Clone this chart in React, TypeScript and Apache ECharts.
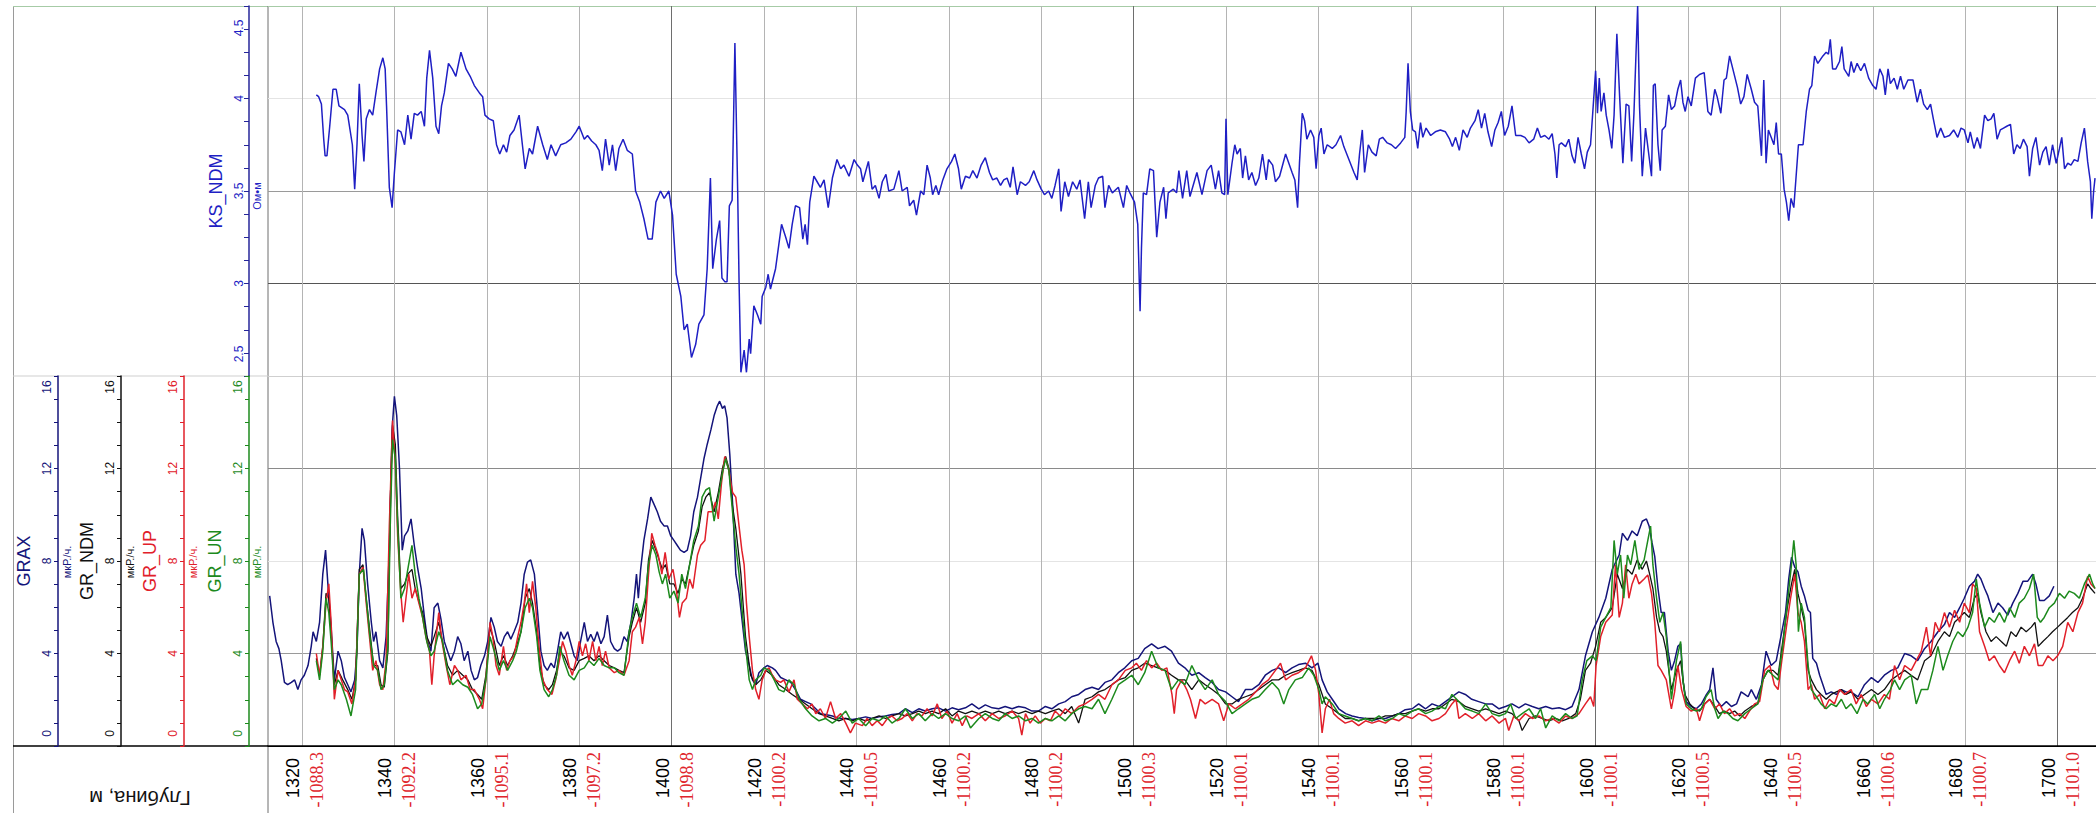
import React, { useEffect, useRef } from "react";
import * as echarts from "echarts";

// ---------- axes / ticks ----------
const DEPTH_MIN = 1312.64;
const DEPTH_MAX = 1708.31;
const DEPTH_TICKS = [1320, 1340, 1360, 1380, 1400, 1420, 1440, 1460, 1480, 1500, 1520, 1540, 1560, 1580, 1600, 1620, 1640, 1660, 1680, 1700];
const ABS_ELEV = ["-1088.3", "-1092.2", "-1095.1", "-1097.2", "-1098.8", "-1100.2", "-1100.5", "-1100.2", "-1100.2", "-1100.3", "-1100.1", "-1100.1", "-1100.1", "-1100.1", "-1100.1", "-1100.5", "-1100.5", "-1100.6", "-1100.7", "-1101.0"];
const KS_RANGE = [2.5, 4.5];
const GR_RANGE = [0, 16];

// ---------- curves: [depth, value] ----------
const KS_NDM: number[][] = [[1323.1,4.02],[1323.6,4.01],[1324.2,3.97],[1324.7,3.78],[1325.0,3.69],[1325.4,3.69],[1326.0,3.85],[1326.7,4.05],[1327.4,4.05],[1328.0,3.96],[1329.2,3.94],[1329.9,3.91],[1330.9,3.75],[1331.4,3.51],[1331.9,3.75],[1332.4,4.08],[1333.0,3.80],[1333.4,3.66],[1333.9,3.89],[1334.6,3.94],[1335.3,3.91],[1336.0,4.03],[1336.8,4.16],[1337.5,4.22],[1338.0,4.16],[1338.3,3.96],[1338.9,3.52],[1339.5,3.41],[1340.0,3.60],[1340.7,3.83],[1341.4,3.82],[1342.2,3.75],[1342.9,3.91],[1343.6,3.78],[1344.3,3.92],[1345.0,3.91],[1345.8,3.93],[1346.5,3.85],[1347.0,4.11],[1347.6,4.26],[1348.3,4.11],[1349.0,3.85],[1349.6,3.81],[1350.2,3.96],[1350.8,4.03],[1351.7,4.19],[1352.5,4.16],[1353.3,4.12],[1354.4,4.25],[1355.5,4.16],[1356.4,4.12],[1357.3,4.07],[1358.4,4.03],[1359.1,4.01],[1359.6,3.91],[1360.5,3.89],[1361.4,3.88],[1362.1,3.75],[1362.8,3.70],[1363.6,3.75],[1364.3,3.71],[1365.0,3.80],[1365.9,3.83],[1367.0,3.91],[1367.7,3.75],[1368.3,3.62],[1369.2,3.73],[1369.9,3.70],[1371.0,3.85],[1372.1,3.75],[1373.1,3.67],[1373.9,3.75],[1374.9,3.69],[1376.0,3.75],[1377.1,3.76],[1378.2,3.78],[1379.3,3.82],[1380.0,3.85],[1381.1,3.78],[1381.8,3.80],[1382.7,3.77],[1383.6,3.75],[1384.3,3.72],[1385.0,3.61],[1385.7,3.78],[1386.5,3.64],[1387.2,3.75],[1387.9,3.61],[1388.6,3.73],[1389.5,3.78],[1390.4,3.72],[1391.5,3.70],[1392.2,3.50],[1393.1,3.44],[1394.0,3.35],[1394.9,3.24],[1395.8,3.24],[1396.6,3.44],[1397.6,3.50],[1398.4,3.46],[1399.4,3.50],[1400.2,3.37],[1401.0,3.05],[1402.0,2.93],[1402.7,2.75],[1403.4,2.78],[1404.3,2.60],[1405.2,2.67],[1405.9,2.78],[1407.0,2.83],[1407.7,3.08],[1408.4,3.57],[1408.9,3.08],[1409.7,3.24],[1410.4,3.34],[1410.9,3.03],[1411.5,3.01],[1412.0,3.01],[1412.5,3.42],[1413.1,3.45],[1413.7,4.30],[1414.3,3.50],[1414.6,3.01],[1415.0,2.52],[1415.7,2.64],[1416.2,2.52],[1416.8,2.70],[1417.1,2.62],[1417.8,2.88],[1418.6,2.83],[1419.3,2.78],[1419.6,2.93],[1420.4,2.98],[1420.9,3.05],[1421.4,2.97],[1422.5,3.08],[1423.8,3.32],[1424.7,3.25],[1425.4,3.19],[1426.1,3.32],[1426.8,3.42],[1427.7,3.41],[1428.4,3.24],[1428.9,3.32],[1429.4,3.21],[1429.9,3.44],[1430.8,3.58],[1431.5,3.55],[1432.2,3.52],[1433.0,3.56],[1433.9,3.41],[1434.8,3.57],[1435.8,3.67],[1436.6,3.62],[1437.3,3.64],[1438.4,3.58],[1439.5,3.67],[1440.2,3.64],[1440.9,3.62],[1441.4,3.55],[1442.6,3.66],[1443.4,3.51],[1444.1,3.53],[1444.9,3.46],[1445.6,3.55],[1446.4,3.59],[1447.0,3.50],[1448.1,3.51],[1449.2,3.61],[1449.9,3.50],[1451.0,3.52],[1451.5,3.42],[1452.4,3.45],[1453.0,3.37],[1453.9,3.50],[1454.6,3.48],[1455.3,3.64],[1456.0,3.57],[1456.5,3.48],[1457.2,3.53],[1457.8,3.48],[1458.7,3.56],[1459.6,3.62],[1460.6,3.66],[1461.3,3.70],[1462.1,3.62],[1462.7,3.51],[1463.6,3.58],[1464.5,3.57],[1465.2,3.61],[1466.1,3.57],[1467.0,3.64],[1467.9,3.68],[1468.8,3.60],[1469.5,3.56],[1470.4,3.57],[1471.2,3.53],[1471.9,3.56],[1472.6,3.57],[1473.3,3.52],[1473.9,3.63],[1474.8,3.48],[1475.5,3.55],[1476.6,3.53],[1477.4,3.55],[1478.4,3.61],[1479.1,3.56],[1480.0,3.51],[1480.7,3.48],[1481.6,3.50],[1482.3,3.46],[1483.0,3.53],[1483.8,3.62],[1484.3,3.39],[1485.1,3.55],[1485.9,3.47],[1486.8,3.55],[1487.7,3.51],[1488.4,3.56],[1489.4,3.35],[1490.2,3.55],[1490.8,3.41],[1491.7,3.53],[1492.4,3.57],[1493.3,3.58],[1493.8,3.41],[1494.6,3.53],[1495.4,3.49],[1496.7,3.52],[1497.8,3.41],[1498.5,3.53],[1499.2,3.49],[1500.2,3.44],[1500.9,3.32],[1501.4,2.85],[1501.7,3.19],[1502.1,3.49],[1502.8,3.48],[1503.5,3.62],[1504.3,3.61],[1505.0,3.25],[1505.7,3.44],[1506.5,3.52],[1507.0,3.35],[1507.5,3.49],[1508.6,3.51],[1509.3,3.49],[1509.8,3.61],[1510.6,3.46],[1511.5,3.61],[1512.2,3.47],[1513.7,3.60],[1514.8,3.48],[1515.9,3.61],[1516.8,3.64],[1517.7,3.51],[1518.4,3.61],[1519.1,3.49],[1519.7,3.48],[1520.0,3.89],[1520.4,3.48],[1521.3,3.65],[1521.9,3.75],[1522.4,3.70],[1523.1,3.73],[1523.6,3.57],[1524.2,3.69],[1524.9,3.56],[1525.6,3.60],[1526.4,3.53],[1527.1,3.57],[1527.9,3.70],[1528.7,3.56],[1529.2,3.67],[1530.1,3.64],[1530.7,3.55],[1531.6,3.58],[1532.9,3.70],[1533.6,3.65],[1534.3,3.60],[1534.9,3.56],[1535.5,3.41],[1535.9,3.65],[1536.5,3.92],[1537.0,3.88],[1537.5,3.78],[1538.3,3.83],[1539.0,3.79],[1539.5,3.62],[1540.1,3.80],[1540.6,3.84],[1541.2,3.70],[1541.9,3.75],[1543.0,3.73],[1543.8,3.75],[1544.8,3.80],[1545.5,3.74],[1546.6,3.67],[1547.7,3.60],[1548.4,3.56],[1548.9,3.70],[1549.5,3.83],[1550.0,3.60],[1550.8,3.75],[1551.6,3.71],[1552.5,3.69],[1553.2,3.78],[1553.9,3.79],[1554.9,3.76],[1555.8,3.75],[1556.7,3.73],[1557.8,3.76],[1558.7,3.79],[1559.0,3.93],[1559.4,4.19],[1559.9,3.93],[1560.4,3.83],[1561.0,3.82],[1561.5,3.73],[1562.1,3.87],[1562.6,3.79],[1563.3,3.84],[1564.3,3.80],[1565.3,3.82],[1566.4,3.83],[1567.5,3.82],[1568.4,3.78],[1569.0,3.74],[1569.7,3.79],[1570.5,3.72],[1571.3,3.83],[1572.2,3.79],[1572.9,3.84],[1573.9,3.88],[1574.6,3.94],[1575.3,3.84],[1576.0,3.92],[1576.7,3.82],[1577.5,3.74],[1578.2,3.83],[1578.9,3.87],[1579.6,3.93],[1580.3,3.80],[1581.1,3.85],[1581.9,3.96],[1582.7,3.80],[1583.8,3.80],[1584.7,3.79],[1585.6,3.76],[1586.6,3.78],[1587.4,3.84],[1588.1,3.79],[1589.0,3.80],[1589.9,3.78],[1590.6,3.81],[1591.2,3.70],[1591.6,3.57],[1592.1,3.75],[1592.6,3.76],[1593.5,3.74],[1594.2,3.78],[1594.9,3.69],[1595.5,3.65],[1596.2,3.79],[1596.9,3.70],[1597.6,3.62],[1598.2,3.71],[1598.9,3.75],[1599.4,3.93],[1600.0,4.15],[1600.4,3.92],[1600.8,4.11],[1601.2,3.93],[1601.8,4.03],[1602.3,3.91],[1602.9,3.83],[1603.5,3.73],[1604.0,3.91],[1604.6,4.35],[1605.2,4.01],[1605.9,3.65],[1606.6,3.97],[1607.2,3.96],[1607.8,3.66],[1608.3,3.92],[1609.1,4.50],[1609.5,3.96],[1610.1,3.58],[1610.8,3.84],[1611.5,3.70],[1612.1,3.58],[1612.5,4.07],[1612.9,4.08],[1613.5,3.75],[1614.0,3.61],[1614.4,3.83],[1615.1,3.85],[1615.8,4.02],[1616.4,3.94],[1617.1,3.96],[1617.8,4.05],[1618.4,4.10],[1618.9,3.98],[1619.4,3.93],[1620.0,4.01],[1620.7,3.96],[1621.6,4.11],[1622.5,4.13],[1623.5,4.14],[1624.3,3.93],[1625.0,3.91],[1625.8,4.05],[1626.3,4.01],[1627.1,3.92],[1627.8,4.10],[1628.3,4.11],[1629.0,4.23],[1629.7,4.16],[1630.7,4.06],[1631.4,3.97],[1632.1,4.01],[1632.8,4.13],[1633.7,4.05],[1634.4,3.98],[1635.1,3.96],[1635.9,3.69],[1636.4,4.10],[1636.9,3.65],[1637.4,3.83],[1638.0,3.79],[1638.6,3.75],[1639.1,3.87],[1639.6,3.70],[1640.2,3.70],[1640.8,3.51],[1641.3,3.44],[1641.8,3.34],[1642.3,3.46],[1642.9,3.41],[1643.4,3.58],[1643.9,3.75],[1644.9,3.75],[1645.6,3.93],[1646.3,4.05],[1646.8,4.07],[1647.4,4.23],[1648.1,4.19],[1649.2,4.23],[1649.9,4.25],[1650.4,4.24],[1650.8,4.32],[1651.3,4.16],[1652.0,4.16],[1652.8,4.20],[1653.3,4.28],[1653.8,4.16],[1654.8,4.12],[1655.3,4.20],[1655.9,4.14],[1656.6,4.19],[1657.4,4.15],[1658.2,4.19],[1659.1,4.11],[1660.0,4.07],[1660.7,4.05],[1661.5,4.16],[1662.2,4.12],[1662.7,4.02],[1663.3,4.16],[1663.8,4.08],[1664.6,4.11],[1665.3,4.05],[1666.0,4.12],[1666.7,4.05],[1667.6,4.10],[1668.7,4.10],[1669.6,3.98],[1670.3,4.05],[1671.0,3.97],[1671.8,3.94],[1672.5,3.97],[1673.1,3.89],[1673.9,3.79],[1674.7,3.84],[1675.5,3.79],[1676.6,3.80],[1677.5,3.83],[1678.4,3.79],[1679.1,3.84],[1679.8,3.83],[1680.6,3.76],[1681.1,3.82],[1681.9,3.73],[1682.6,3.79],[1683.3,3.73],[1684.2,3.91],[1684.9,3.88],[1685.6,3.89],[1686.2,3.92],[1686.9,3.78],[1687.6,3.83],[1688.3,3.84],[1689.0,3.85],[1689.8,3.86],[1690.5,3.70],[1691.2,3.75],[1691.9,3.73],[1692.6,3.78],[1693.4,3.74],[1693.9,3.58],[1694.6,3.73],[1695.3,3.79],[1696.1,3.64],[1696.8,3.71],[1697.5,3.74],[1698.2,3.64],[1698.9,3.75],[1699.7,3.65],[1700.4,3.73],[1700.9,3.79],[1701.5,3.62],[1702.2,3.65],[1702.9,3.64],[1703.6,3.67],[1704.4,3.66],[1705.1,3.76],[1705.8,3.84],[1706.5,3.66],[1707.1,3.55],[1707.4,3.35],[1707.8,3.50],[1708.1,3.57]];

const GRAX: number[][] = [[1313.0,6.49],[1313.7,5.35],[1314.4,4.52],[1315.0,4.21],[1315.5,3.69],[1316.2,2.75],[1316.9,2.65],[1317.7,2.75],[1318.4,2.86],[1319.1,2.44],[1319.8,2.86],[1320.5,3.06],[1321.3,3.48],[1322.0,4.31],[1322.4,4.94],[1323.1,4.52],[1323.8,5.35],[1324.5,7.43],[1325.1,8.47],[1325.6,7.01],[1326.3,5.14],[1327.0,2.86],[1327.8,4.10],[1328.5,3.69],[1329.2,2.96],[1329.9,2.65],[1330.6,2.34],[1331.4,2.86],[1331.9,4.10],[1332.4,7.43],[1333.0,9.41],[1333.5,8.89],[1334.2,7.01],[1335.0,5.35],[1335.5,4.52],[1336.0,4.94],[1336.8,3.69],[1337.5,3.38],[1338.2,4.73],[1338.9,8.47],[1339.5,13.67],[1340.0,15.12],[1340.5,14.29],[1341.1,12.00],[1341.7,8.47],[1342.2,9.09],[1342.9,9.30],[1343.6,9.82],[1344.3,8.68],[1345.0,7.74],[1345.8,6.81],[1346.5,5.56],[1347.2,4.52],[1347.9,4.10],[1348.6,5.98],[1349.4,6.18],[1350.1,5.46],[1350.8,4.52],[1351.5,4.10],[1352.2,3.69],[1353.0,4.10],[1353.7,4.73],[1354.4,4.42],[1355.1,3.69],[1355.9,4.10],[1356.6,3.27],[1357.3,2.86],[1358.0,2.96],[1358.7,3.48],[1359.5,3.90],[1360.2,4.52],[1360.9,5.56],[1361.6,5.14],[1362.3,4.52],[1363.1,4.31],[1363.8,4.73],[1364.5,4.94],[1365.2,4.62],[1365.9,4.94],[1366.7,5.35],[1367.4,6.18],[1368.1,7.43],[1368.8,7.95],[1369.5,8.05],[1370.3,7.43],[1371.0,5.77],[1371.7,4.10],[1372.4,3.48],[1373.1,3.27],[1373.9,3.58],[1374.6,3.38],[1375.3,4.10],[1376.0,4.94],[1376.7,4.62],[1377.5,4.94],[1378.2,4.42],[1378.9,3.90],[1379.6,3.69],[1380.3,4.52],[1381.1,5.35],[1381.8,4.52],[1382.5,4.83],[1383.2,4.52],[1383.9,4.94],[1384.7,4.42],[1385.4,4.73],[1386.1,5.66],[1386.8,4.52],[1387.6,4.21],[1388.3,4.10],[1389.0,4.21],[1389.7,4.73],[1390.4,4.52],[1391.2,5.35],[1391.9,6.39],[1392.4,7.43],[1392.8,6.39],[1393.3,7.64],[1394.0,8.89],[1394.8,9.82],[1395.5,10.76],[1396.2,10.45],[1396.9,10.13],[1397.6,9.72],[1398.4,9.51],[1399.1,9.51],[1399.8,9.09],[1400.5,8.89],[1401.2,8.68],[1401.9,8.47],[1402.7,8.37],[1403.4,8.47],[1404.1,9.09],[1404.8,10.13],[1405.6,10.76],[1406.3,11.59],[1407.0,12.42],[1407.7,13.04],[1408.5,13.67],[1409.2,14.29],[1409.9,14.71],[1410.4,14.91],[1411.0,14.60],[1411.5,14.71],[1412.0,14.19],[1412.6,12.60],[1413.2,10.50],[1413.9,7.43],[1414.6,6.60],[1415.3,5.35],[1416.0,4.10],[1416.8,3.48],[1417.5,2.86],[1418.2,2.65],[1418.9,3.17],[1420.0,3.38],[1420.7,3.48],[1421.8,3.38],[1422.5,3.27],[1423.6,2.96],[1424.7,2.86],[1425.8,2.75],[1426.8,2.44],[1427.9,2.02],[1429.0,1.92],[1430.1,1.82],[1431.2,1.61],[1432.2,1.40],[1433.3,1.36],[1434.8,1.30],[1436.2,1.19],[1437.7,1.19],[1439.1,1.15],[1440.5,1.19],[1442.0,1.26],[1443.4,1.19],[1444.9,1.26],[1446.3,1.30],[1447.7,1.36],[1449.2,1.40],[1450.6,1.61],[1452.1,1.44],[1453.5,1.61],[1454.9,1.51],[1456.4,1.61],[1457.8,1.65],[1459.3,1.51],[1460.7,1.65],[1462.1,1.57],[1463.6,1.65],[1465.0,1.82],[1466.5,1.61],[1467.9,1.78],[1469.4,1.65],[1470.8,1.61],[1472.2,1.71],[1473.7,1.61],[1475.1,1.71],[1476.6,1.65],[1478.0,1.51],[1479.4,1.51],[1480.9,1.71],[1482.3,1.61],[1483.8,1.82],[1485.2,1.92],[1486.6,2.13],[1488.1,2.23],[1489.5,2.44],[1491.0,2.54],[1492.4,2.44],[1493.8,2.75],[1495.3,2.86],[1496.7,3.17],[1498.1,3.38],[1499.6,3.69],[1501.0,3.79],[1502.4,4.21],[1503.9,4.42],[1505.3,4.21],[1506.8,4.31],[1508.2,4.10],[1509.7,3.58],[1511.1,3.38],[1512.6,3.06],[1514.1,3.17],[1515.5,2.96],[1517.0,2.75],[1518.4,2.44],[1519.9,2.34],[1521.3,2.13],[1522.7,1.92],[1524.2,2.44],[1525.6,2.44],[1527.1,2.65],[1528.5,3.06],[1530.0,3.27],[1531.4,3.38],[1532.9,3.17],[1534.3,3.38],[1535.7,3.52],[1537.2,3.58],[1538.6,3.38],[1539.9,3.58],[1540.8,2.86],[1541.9,2.34],[1543.0,2.02],[1544.4,1.61],[1545.9,1.40],[1547.3,1.30],[1548.7,1.23],[1550.2,1.19],[1551.6,1.09],[1553.1,1.19],[1554.5,1.19],[1556.0,1.30],[1557.4,1.40],[1558.8,1.57],[1560.3,1.61],[1561.7,1.82],[1563.2,1.61],[1564.6,1.82],[1566.1,1.71],[1567.5,1.92],[1568.9,2.13],[1570.4,2.34],[1571.8,2.23],[1573.2,2.02],[1574.7,1.92],[1576.2,1.82],[1577.6,1.82],[1579.1,1.61],[1580.5,1.71],[1581.9,1.82],[1583.4,1.65],[1584.8,1.82],[1586.3,1.71],[1587.7,1.61],[1589.2,1.71],[1590.6,1.61],[1592.1,1.65],[1593.5,1.57],[1594.9,1.71],[1596.4,2.44],[1597.8,3.90],[1599.3,4.94],[1600.7,5.56],[1602.2,6.39],[1603.6,7.64],[1605.1,8.26],[1605.8,9.20],[1606.9,8.89],[1607.9,9.30],[1609.0,9.09],[1610.1,9.72],[1611.0,9.82],[1611.6,9.50],[1612.2,8.80],[1612.8,8.20],[1613.5,6.81],[1614.2,5.77],[1614.9,5.77],[1615.7,4.10],[1616.4,3.27],[1617.1,3.69],[1617.8,4.31],[1618.4,4.42],[1618.9,2.86],[1619.6,1.92],[1620.7,1.71],[1621.8,1.61],[1622.9,1.82],[1624.0,2.23],[1624.7,2.44],[1625.4,3.38],[1626.1,2.02],[1627.2,1.71],[1628.3,1.92],[1629.4,1.71],[1630.5,1.82],[1631.5,2.34],[1632.3,2.23],[1633.0,2.13],[1633.7,2.44],[1634.8,2.02],[1635.9,2.65],[1636.9,4.10],[1638.0,3.48],[1639.1,3.69],[1640.2,4.83],[1641.1,5.77],[1641.8,7.22],[1642.4,8.16],[1643.1,7.74],[1643.8,7.53],[1644.5,6.91],[1645.2,6.49],[1646.0,5.87],[1646.5,5.77],[1647.0,3.79],[1647.8,3.58],[1648.5,3.06],[1649.2,2.65],[1649.9,2.23],[1651.0,2.34],[1652.1,2.23],[1653.2,2.44],[1654.2,2.34],[1655.3,2.34],[1656.8,2.13],[1658.2,2.65],[1659.7,2.96],[1661.1,2.75],[1662.5,3.06],[1664.0,3.27],[1665.4,3.38],[1666.9,4.00],[1668.3,3.90],[1669.7,3.69],[1671.2,4.21],[1672.6,4.52],[1674.1,4.94],[1675.5,5.25],[1676.6,5.77],[1677.7,5.56],[1678.8,5.98],[1679.8,6.39],[1680.9,6.91],[1682.0,7.12],[1682.7,7.43],[1683.4,7.22],[1684.2,6.81],[1684.9,6.49],[1686.0,5.77],[1687.1,6.18],[1688.1,5.98],[1689.2,5.66],[1690.3,6.18],[1691.4,6.60],[1692.5,7.12],[1693.5,7.12],[1694.6,7.43],[1695.3,7.01],[1696.1,6.29],[1697.1,6.29],[1698.2,6.49],[1699.2,6.91]];

const GR_NDM: number[][] = [[1323.1,3.79],[1323.8,3.06],[1324.5,4.31],[1325.2,6.60],[1325.8,6.39],[1326.3,4.94],[1327.0,2.65],[1327.8,3.27],[1328.8,2.86],[1329.9,2.44],[1330.8,2.02],[1331.6,2.86],[1332.4,7.64],[1333.2,7.84],[1333.9,6.39],[1334.7,4.94],[1335.5,3.48],[1336.4,3.48],[1337.1,2.65],[1337.8,2.54],[1338.6,4.10],[1339.1,10.55],[1339.6,13.88],[1340.2,13.04],[1340.7,9.93],[1341.4,6.81],[1342.2,7.01],[1342.9,7.43],[1343.8,7.64],[1344.5,6.81],[1345.4,6.18],[1346.1,5.77],[1347.0,4.73],[1347.9,4.31],[1348.6,4.73],[1349.6,5.35],[1350.4,4.52],[1351.5,3.48],[1352.6,3.06],[1353.7,3.27],[1354.8,3.06],[1355.9,2.86],[1356.9,2.44],[1358.0,2.23],[1358.9,2.02],[1359.8,3.06],[1360.7,5.14],[1361.6,4.52],[1362.7,3.48],[1363.6,3.90],[1364.5,3.48],[1365.6,3.90],[1366.4,4.31],[1367.4,4.94],[1368.3,6.39],[1369.2,6.81],[1369.9,6.18],[1370.8,4.94],[1371.5,3.48],[1372.4,2.65],[1373.4,2.44],[1374.2,2.65],[1375.1,3.27],[1375.8,4.10],[1376.7,3.90],[1377.8,3.38],[1378.9,3.27],[1380.0,3.69],[1381.1,3.79],[1382.1,3.90],[1383.2,3.69],[1384.3,3.90],[1385.4,3.69],[1386.5,3.48],[1387.6,3.38],[1388.6,3.27],[1389.7,3.17],[1390.8,4.73],[1391.5,5.35],[1392.4,5.98],[1393.3,5.35],[1394.3,6.18],[1395.0,8.05],[1395.8,8.89],[1396.6,8.47],[1397.3,8.05],[1398.0,7.64],[1398.7,7.84],[1399.6,7.01],[1400.5,7.01],[1401.4,6.60],[1402.2,7.22],[1403.0,7.01],[1403.9,7.84],[1404.8,8.68],[1405.8,9.30],[1406.6,10.34],[1407.4,10.76],[1408.2,10.96],[1409.2,10.13],[1410.1,10.96],[1411.0,12.00],[1411.7,12.52],[1412.4,12.00],[1413.1,10.50],[1413.9,9.40],[1415.0,7.43],[1416.0,4.73],[1417.1,3.06],[1418.2,2.65],[1419.3,2.86],[1420.4,3.27],[1421.8,3.06],[1423.2,2.65],[1424.7,2.44],[1426.1,2.23],[1427.6,2.02],[1429.0,1.82],[1430.4,1.61],[1431.9,1.40],[1433.3,1.30],[1434.8,1.19],[1436.2,1.09],[1437.7,1.19],[1439.1,1.09],[1440.5,1.19],[1442.0,1.09],[1443.4,1.19],[1444.9,1.30],[1446.3,1.19],[1447.7,1.30],[1449.2,1.40],[1450.6,1.30],[1452.1,1.40],[1453.5,1.51],[1454.9,1.40],[1456.4,1.51],[1457.8,1.40],[1459.3,1.61],[1460.7,1.30],[1462.1,1.51],[1463.6,1.40],[1465.0,1.51],[1466.5,1.40],[1467.9,1.51],[1469.4,1.40],[1470.8,1.51],[1472.2,1.40],[1473.7,1.51],[1475.1,1.40],[1476.6,1.51],[1478.0,1.40],[1479.4,1.51],[1480.9,1.40],[1482.3,1.51],[1483.8,1.61],[1485.2,1.40],[1486.6,1.71],[1488.1,0.99],[1489.5,2.02],[1491.0,2.13],[1492.4,2.34],[1493.8,2.44],[1495.3,2.65],[1496.7,2.86],[1498.2,2.96],[1499.6,3.27],[1501.0,3.38],[1502.4,3.58],[1503.9,3.48],[1505.3,3.38],[1506.8,3.27],[1508.2,3.06],[1509.7,2.86],[1511.1,2.86],[1512.6,2.44],[1514.1,2.86],[1515.5,2.65],[1517.0,2.44],[1518.4,2.23],[1519.9,1.82],[1521.3,1.82],[1522.7,2.02],[1524.2,2.13],[1525.6,2.23],[1527.1,2.44],[1528.5,2.65],[1530.0,2.86],[1531.4,2.86],[1532.9,3.06],[1534.3,3.17],[1535.7,3.27],[1537.2,3.38],[1538.6,3.27],[1540.1,2.65],[1541.5,1.82],[1543.0,1.61],[1544.4,1.40],[1545.8,1.19],[1547.3,1.19],[1548.7,1.09],[1550.2,1.19],[1551.6,1.19],[1553.1,1.19],[1554.5,1.30],[1556.0,1.30],[1557.4,1.40],[1558.8,1.40],[1560.3,1.51],[1561.7,1.61],[1563.2,1.51],[1564.6,1.61],[1566.1,1.61],[1567.5,1.82],[1568.9,2.02],[1570.4,1.92],[1571.8,1.71],[1573.3,1.61],[1574.7,1.51],[1576.2,1.61],[1577.6,1.51],[1579.1,1.40],[1580.5,1.51],[1581.9,1.40],[1583.4,1.09],[1584.1,0.67],[1585.6,1.19],[1587.0,1.30],[1588.4,1.19],[1589.9,1.09],[1591.3,1.19],[1592.8,1.09],[1594.2,1.19],[1595.7,1.40],[1596.7,2.02],[1597.8,3.27],[1598.9,3.58],[1600.0,4.31],[1601.1,5.35],[1602.2,5.56],[1603.6,5.98],[1604.7,7.43],[1605.8,6.81],[1606.9,7.64],[1607.9,7.43],[1609.0,8.05],[1610.1,7.64],[1611.0,8.00],[1611.7,7.43],[1612.4,6.81],[1613.2,5.56],[1613.9,4.94],[1614.6,4.73],[1615.3,4.10],[1616.4,2.44],[1617.5,3.27],[1618.4,3.69],[1619.3,2.23],[1620.4,1.82],[1621.4,1.61],[1622.5,1.51],[1623.6,1.82],[1624.7,2.02],[1625.8,1.71],[1626.8,1.40],[1627.9,1.51],[1629.0,1.40],[1630.1,1.51],[1631.2,1.30],[1632.3,1.51],[1633.7,1.71],[1635.1,1.82],[1636.2,2.86],[1637.3,3.27],[1638.4,3.27],[1639.5,3.06],[1640.5,4.52],[1641.5,5.98],[1642.4,7.01],[1643.1,7.64],[1643.8,6.60],[1644.5,5.98],[1645.2,5.35],[1646.0,3.27],[1646.7,2.86],[1647.8,2.44],[1648.8,2.23],[1649.9,2.02],[1651.0,2.23],[1652.1,2.34],[1653.2,2.44],[1654.2,2.23],[1655.3,2.34],[1656.8,2.02],[1658.2,2.23],[1659.7,2.44],[1661.1,2.23],[1662.5,2.44],[1664.0,2.86],[1665.4,3.06],[1666.9,3.27],[1668.3,3.06],[1669.7,2.86],[1671.2,3.69],[1672.6,3.90],[1674.1,4.52],[1675.5,4.94],[1676.6,4.73],[1677.7,5.35],[1678.8,5.56],[1679.8,5.77],[1680.9,5.56],[1682.0,6.39],[1682.7,6.60],[1683.4,5.77],[1684.5,4.94],[1685.6,4.52],[1686.7,4.73],[1687.8,4.52],[1688.9,4.31],[1689.9,4.94],[1691.0,4.73],[1692.1,5.14],[1693.2,4.94],[1694.3,5.14],[1695.1,5.35],[1695.8,4.31],[1696.8,4.52],[1697.9,4.73],[1698.9,4.94],[1700.0,5.14],[1701.1,5.35],[1702.2,5.56],[1703.2,5.77],[1704.4,5.98],[1705.4,6.39],[1706.5,7.01],[1707.2,6.81],[1708.1,6.60]];

const GR_UP: number[][] = [[1323.1,4.00],[1323.8,3.06],[1324.5,4.31],[1325.2,6.18],[1325.8,7.01],[1326.3,5.35],[1327.0,2.02],[1327.8,3.27],[1328.5,2.86],[1329.2,2.44],[1329.9,2.34],[1330.8,1.82],[1331.6,2.86],[1332.4,7.43],[1333.2,7.74],[1333.9,6.18],[1334.6,4.73],[1335.3,3.27],[1336.0,3.69],[1336.8,2.65],[1337.5,2.44],[1338.2,3.69],[1338.9,9.51],[1339.6,14.08],[1340.2,12.21],[1340.7,9.09],[1341.4,6.60],[1341.9,5.35],[1342.5,6.39],[1343.1,7.43],[1343.8,6.39],[1344.5,6.81],[1345.3,6.18],[1346.1,5.56],[1346.8,4.73],[1347.6,4.10],[1348.1,2.65],[1348.6,3.90],[1349.6,5.77],[1350.3,4.52],[1351.2,3.48],[1352.0,2.65],[1353.0,3.48],[1353.7,3.27],[1354.4,2.86],[1355.5,3.06],[1356.4,2.44],[1357.3,2.44],[1358.4,2.02],[1359.1,1.61],[1359.8,2.86],[1360.7,5.35],[1361.3,4.73],[1362.0,3.48],[1362.7,3.06],[1363.6,4.31],[1364.3,3.27],[1365.0,3.69],[1365.9,3.90],[1366.7,4.73],[1367.4,5.35],[1368.1,6.18],[1368.6,7.01],[1369.2,5.77],[1369.9,7.12],[1370.6,5.98],[1371.3,4.31],[1372.1,2.86],[1373.1,2.44],[1374.1,2.23],[1374.9,2.86],[1375.7,3.69],[1376.4,4.52],[1377.1,4.10],[1377.8,3.48],[1378.5,3.06],[1379.3,3.69],[1380.0,4.52],[1380.7,3.90],[1381.4,4.42],[1382.1,3.69],[1382.9,4.52],[1383.6,3.69],[1384.3,4.31],[1385.0,3.48],[1385.7,4.10],[1386.5,3.38],[1387.6,3.17],[1388.6,3.27],[1389.7,3.06],[1390.8,3.69],[1391.5,4.94],[1392.2,5.14],[1393.0,5.56],[1393.7,4.42],[1394.3,5.35],[1395.0,7.43],[1395.7,9.20],[1396.4,8.68],[1397.1,8.26],[1397.9,7.43],[1398.6,8.37],[1399.4,7.22],[1400.3,7.64],[1401.0,6.81],[1401.7,5.56],[1402.3,6.18],[1403.2,6.39],[1403.9,7.22],[1404.6,6.81],[1405.6,8.26],[1406.3,8.68],[1407.2,8.89],[1407.9,10.13],[1408.8,10.13],[1409.5,10.55],[1410.1,9.82],[1410.8,11.38],[1411.5,12.52],[1412.3,12.00],[1413.2,10.96],[1413.9,10.76],[1414.6,9.51],[1415.2,8.47],[1415.7,7.84],[1416.2,6.18],[1416.8,4.73],[1417.5,3.27],[1418.2,2.44],[1418.9,2.02],[1419.6,2.86],[1420.4,3.27],[1421.1,3.38],[1421.8,3.06],[1422.5,2.86],[1423.6,2.75],[1424.3,2.86],[1425.4,2.34],[1426.5,2.86],[1427.2,2.02],[1428.3,1.82],[1429.4,1.61],[1430.4,1.82],[1431.2,1.40],[1432.2,1.61],[1433.3,1.19],[1434.4,1.92],[1435.5,1.19],[1436.6,1.40],[1437.7,0.99],[1438.7,0.57],[1439.8,0.99],[1441.3,0.88],[1442.3,1.19],[1443.4,0.88],[1444.5,1.09],[1445.6,0.88],[1446.7,1.19],[1447.7,1.30],[1448.8,1.09],[1449.9,1.19],[1451.0,1.40],[1452.1,1.09],[1453.1,1.40],[1454.2,1.30],[1455.3,1.61],[1456.4,1.30],[1457.5,1.82],[1458.5,1.19],[1459.6,1.51],[1460.7,0.99],[1461.8,1.40],[1462.9,0.88],[1463.9,1.30],[1465.0,1.19],[1466.5,1.40],[1467.9,1.09],[1469.4,1.40],[1470.8,1.19],[1472.2,1.30],[1473.7,1.51],[1475.1,1.19],[1475.8,0.47],[1476.6,1.40],[1477.6,0.99],[1478.7,1.30],[1479.8,0.99],[1480.9,1.19],[1482.0,1.09],[1483.0,1.51],[1484.1,1.30],[1485.2,1.61],[1486.6,1.40],[1488.1,1.71],[1489.5,1.82],[1491.0,2.02],[1492.4,2.23],[1493.8,2.02],[1495.3,2.65],[1496.7,2.86],[1498.2,3.27],[1499.6,3.38],[1500.6,3.58],[1501.7,3.27],[1502.8,3.69],[1503.9,3.38],[1505.0,3.58],[1506.1,3.27],[1507.2,3.38],[1508.3,2.23],[1508.8,1.40],[1509.3,2.44],[1510.4,2.86],[1511.5,2.44],[1512.3,2.02],[1513.4,1.19],[1514.4,2.02],[1515.5,1.82],[1517.0,2.02],[1518.4,1.82],[1519.5,1.09],[1520.6,1.82],[1522.0,1.61],[1523.5,1.82],[1524.9,2.02],[1526.4,2.34],[1527.8,2.65],[1529.2,2.86],[1530.7,3.27],[1531.8,3.58],[1532.9,2.86],[1534.3,3.06],[1535.7,3.17],[1537.2,3.38],[1538.5,3.90],[1539.4,3.27],[1540.1,2.23],[1540.8,0.57],[1541.5,1.61],[1542.4,2.02],[1543.3,1.40],[1544.4,1.19],[1545.8,0.99],[1547.3,1.09],[1548.7,0.88],[1550.2,1.09],[1551.6,0.99],[1553.1,1.09],[1554.5,0.99],[1555.9,1.19],[1557.4,1.09],[1558.8,1.30],[1560.3,1.19],[1561.7,1.40],[1563.2,1.30],[1564.6,1.09],[1566.1,1.19],[1567.5,1.40],[1568.9,1.82],[1569.8,2.02],[1570.4,1.19],[1571.8,1.40],[1573.3,1.19],[1574.7,1.40],[1576.2,1.09],[1577.6,1.30],[1579.1,0.99],[1580.5,1.19],[1581.2,0.67],[1582.3,1.30],[1583.4,1.09],[1584.8,1.40],[1586.3,1.19],[1587.7,1.30],[1589.2,1.09],[1590.6,1.19],[1592.1,0.99],[1593.5,1.30],[1594.9,1.19],[1596.4,1.40],[1597.8,1.82],[1598.9,2.13],[1599.6,1.71],[1600.1,3.48],[1601.1,4.73],[1602.2,5.35],[1603.6,5.66],[1604.3,7.84],[1605.1,5.56],[1605.8,6.18],[1606.5,7.84],[1607.2,6.39],[1607.9,7.01],[1608.7,7.43],[1609.4,7.01],[1610.5,7.22],[1611.3,7.40],[1612.1,6.60],[1612.8,5.35],[1613.5,3.48],[1614.2,3.27],[1615.3,2.86],[1616.4,1.61],[1617.1,2.34],[1617.8,3.48],[1618.6,2.44],[1619.6,1.71],[1620.7,1.51],[1621.8,1.61],[1622.5,1.09],[1623.6,1.82],[1624.7,2.02],[1625.8,1.61],[1626.8,1.82],[1627.9,1.40],[1629.0,1.61],[1630.1,1.30],[1631.2,1.40],[1632.3,1.19],[1633.3,1.51],[1634.4,1.82],[1635.5,1.92],[1636.6,3.27],[1637.7,3.48],[1638.7,2.65],[1639.5,2.44],[1640.3,3.69],[1641.3,5.14],[1642.2,6.39],[1643.1,7.43],[1643.8,5.77],[1644.5,5.35],[1645.2,4.52],[1646.0,2.44],[1646.7,2.65],[1647.4,2.02],[1648.5,2.23],[1649.6,1.61],[1650.6,2.02],[1651.7,1.82],[1652.8,2.44],[1653.9,2.23],[1655.3,2.44],[1656.4,1.82],[1657.5,2.23],[1658.6,1.71],[1659.7,2.02],[1661.1,1.82],[1662.5,2.23],[1663.6,2.02],[1664.7,3.48],[1665.8,2.86],[1666.9,3.48],[1668.3,3.27],[1669.4,3.69],[1670.5,4.10],[1671.6,5.14],[1672.5,3.90],[1673.5,5.35],[1674.4,4.94],[1675.5,5.77],[1676.6,5.14],[1677.7,5.87],[1678.8,5.35],[1679.8,6.18],[1680.9,5.77],[1681.6,7.01],[1682.4,6.81],[1683.1,4.94],[1684.2,4.31],[1685.2,3.69],[1686.3,3.90],[1687.4,3.48],[1688.5,3.17],[1689.6,3.69],[1690.7,4.10],[1691.7,3.58],[1692.8,4.31],[1693.9,3.90],[1695.0,4.42],[1695.8,3.48],[1696.8,3.48],[1697.9,3.90],[1699.0,3.69],[1700.0,3.90],[1701.1,4.31],[1702.2,5.35],[1703.3,4.94],[1704.4,5.77],[1705.4,6.18],[1706.5,7.33],[1707.2,7.01],[1708.1,6.81]];

const GR_UN: number[][] = [[1323.1,3.69],[1323.8,2.86],[1324.5,4.10],[1325.2,6.39],[1325.8,5.77],[1326.3,4.52],[1327.0,2.44],[1327.8,2.86],[1328.5,2.65],[1329.6,2.02],[1330.6,1.30],[1331.6,2.44],[1332.4,7.43],[1333.3,7.64],[1334.0,6.18],[1334.7,4.73],[1335.5,3.48],[1336.4,3.27],[1337.1,2.44],[1337.8,2.65],[1338.6,4.31],[1339.1,9.51],[1339.6,13.25],[1340.2,12.42],[1340.7,9.51],[1341.4,6.39],[1342.2,6.81],[1342.9,7.64],[1343.8,8.68],[1344.5,7.43],[1345.3,6.39],[1346.1,5.56],[1347.0,4.52],[1347.9,3.90],[1348.6,4.10],[1349.6,4.94],[1350.4,4.52],[1351.5,3.27],[1352.6,2.65],[1353.7,2.86],[1354.8,2.65],[1355.9,2.54],[1356.9,2.23],[1358.0,1.61],[1358.9,1.82],[1359.8,2.86],[1360.7,4.73],[1361.6,4.10],[1362.7,3.27],[1363.6,3.69],[1364.5,3.27],[1365.6,3.69],[1366.4,4.10],[1367.4,4.94],[1368.3,5.98],[1369.2,6.39],[1369.9,5.98],[1370.8,4.73],[1371.5,3.27],[1372.4,2.44],[1373.4,2.13],[1374.2,2.44],[1375.1,3.06],[1375.8,4.31],[1376.7,3.69],[1377.8,3.06],[1378.9,2.86],[1380.0,3.27],[1381.1,3.38],[1382.1,3.69],[1383.2,3.48],[1384.3,3.79],[1385.4,3.48],[1386.5,3.38],[1387.6,3.38],[1388.6,3.17],[1389.7,3.06],[1390.8,4.94],[1391.5,5.56],[1392.4,6.18],[1393.3,5.56],[1394.3,6.39],[1395.0,7.84],[1395.8,8.68],[1396.6,8.26],[1397.3,7.53],[1398.0,7.01],[1398.7,7.43],[1399.6,6.39],[1400.5,6.70],[1401.4,6.18],[1402.2,7.43],[1403.0,6.81],[1403.9,7.84],[1404.8,8.89],[1405.8,9.51],[1406.6,10.76],[1407.4,11.07],[1408.2,11.17],[1409.2,9.72],[1410.1,10.76],[1411.0,11.80],[1411.7,12.42],[1412.4,11.90],[1413.2,10.10],[1413.9,8.60],[1414.6,7.43],[1415.3,5.77],[1416.0,4.31],[1416.8,2.86],[1417.5,2.44],[1418.2,2.86],[1419.3,3.06],[1420.0,3.38],[1421.1,3.27],[1422.2,2.86],[1423.2,2.44],[1424.3,2.34],[1425.4,2.86],[1426.5,2.65],[1427.6,2.02],[1429.0,1.61],[1430.4,1.30],[1431.9,1.09],[1433.3,1.19],[1434.8,0.99],[1436.2,1.19],[1437.7,1.51],[1439.1,0.99],[1440.5,1.19],[1442.0,0.88],[1443.4,1.19],[1444.9,1.09],[1446.3,1.30],[1447.7,0.99],[1449.2,1.19],[1450.6,1.61],[1452.1,1.19],[1453.5,1.40],[1454.9,1.09],[1456.4,1.40],[1457.8,1.19],[1459.3,1.40],[1460.7,1.19],[1462.1,1.09],[1463.6,1.30],[1464.7,0.78],[1466.5,1.19],[1467.9,1.40],[1469.4,1.19],[1470.8,1.09],[1472.2,1.40],[1473.7,1.19],[1475.1,1.30],[1476.6,1.09],[1478.0,1.19],[1479.4,0.99],[1480.9,1.19],[1482.3,1.09],[1483.8,1.30],[1485.2,1.09],[1486.6,1.40],[1488.1,1.61],[1489.5,1.71],[1491.0,1.61],[1492.4,2.02],[1493.8,1.40],[1495.3,2.02],[1496.7,2.65],[1498.2,2.86],[1499.6,3.06],[1501.0,2.65],[1502.4,3.17],[1503.9,4.10],[1505.3,3.38],[1506.8,3.27],[1508.2,2.44],[1509.7,2.86],[1511.1,2.65],[1512.6,3.48],[1514.1,2.86],[1515.5,2.44],[1517.0,2.86],[1518.4,2.23],[1519.9,1.92],[1521.3,1.40],[1522.7,1.61],[1524.2,1.82],[1525.6,2.02],[1527.1,2.13],[1528.5,2.44],[1530.0,2.75],[1531.4,2.44],[1532.5,1.82],[1533.6,2.44],[1535.0,2.86],[1536.5,2.96],[1537.9,3.38],[1539.0,3.06],[1540.1,2.44],[1540.8,1.82],[1541.5,2.13],[1543.0,1.82],[1544.4,1.40],[1545.8,1.30],[1547.3,1.19],[1548.7,1.09],[1550.2,1.19],[1551.6,1.09],[1553.1,1.30],[1554.5,1.09],[1556.0,1.19],[1557.4,1.40],[1558.8,1.30],[1560.3,1.51],[1561.7,1.61],[1563.2,1.40],[1564.6,1.51],[1566.1,1.71],[1567.5,1.61],[1568.9,2.23],[1570.4,1.92],[1571.8,1.61],[1573.3,1.51],[1574.7,1.40],[1576.2,1.82],[1577.6,1.40],[1579.1,1.30],[1580.5,1.40],[1581.6,1.82],[1582.7,1.19],[1584.1,1.40],[1585.6,1.61],[1587.0,1.19],[1588.1,1.61],[1589.2,0.78],[1590.6,1.30],[1592.1,1.09],[1593.5,1.40],[1594.9,1.19],[1596.0,1.30],[1597.1,2.86],[1598.1,3.69],[1599.3,3.90],[1600.1,3.69],[1601.1,5.14],[1602.2,5.56],[1603.3,5.98],[1604.0,8.89],[1604.7,7.43],[1605.4,8.26],[1606.1,6.39],[1606.9,8.26],[1607.6,7.84],[1608.5,8.89],[1609.4,7.64],[1610.5,8.05],[1611.3,8.89],[1611.9,9.51],[1612.4,7.84],[1613.2,6.39],[1613.9,5.35],[1614.6,5.77],[1615.3,4.73],[1616.4,2.02],[1617.5,3.69],[1618.4,4.52],[1618.9,2.86],[1619.6,1.82],[1620.7,1.61],[1621.8,1.51],[1622.9,1.61],[1623.9,2.13],[1625.0,2.44],[1625.8,1.61],[1626.5,1.19],[1627.6,1.51],[1628.7,1.40],[1629.7,1.19],[1630.8,1.09],[1632.3,1.40],[1633.7,1.61],[1635.1,1.82],[1636.2,2.86],[1637.3,3.27],[1638.4,3.06],[1639.5,2.86],[1640.5,4.31],[1641.5,6.18],[1642.4,7.84],[1642.9,8.89],[1643.4,7.84],[1643.9,4.94],[1644.5,6.18],[1645.2,5.56],[1646.0,3.48],[1646.7,2.44],[1647.8,2.13],[1648.8,1.82],[1649.9,1.61],[1651.0,1.82],[1652.1,1.71],[1653.2,2.02],[1654.2,1.61],[1655.3,1.82],[1656.6,1.40],[1657.9,2.02],[1658.9,1.82],[1660.4,2.23],[1661.5,1.61],[1662.5,2.02],[1663.8,2.44],[1664.7,2.86],[1665.8,2.44],[1666.9,2.86],[1668.3,3.06],[1669.4,1.82],[1670.5,2.44],[1671.9,2.44],[1673.0,3.27],[1674.1,4.31],[1675.2,3.27],[1676.2,3.90],[1677.3,4.52],[1678.4,4.94],[1679.5,4.73],[1680.6,5.14],[1681.6,5.77],[1682.4,7.22],[1683.1,6.18],[1684.2,5.14],[1685.2,5.56],[1686.3,5.35],[1687.4,5.77],[1688.5,5.35],[1689.6,5.98],[1690.7,5.56],[1691.7,6.18],[1692.8,6.39],[1693.9,6.81],[1694.8,7.43],[1695.6,5.56],[1696.3,5.35],[1697.1,5.56],[1698.2,5.98],[1699.3,6.18],[1700.4,6.60],[1701.5,6.39],[1702.5,6.70],[1703.6,6.60],[1704.7,6.39],[1705.8,7.01],[1706.9,7.43],[1707.6,7.01],[1708.1,6.81]];

// ---------- styling ----------
const SANS = "'Liberation Sans', Arial, sans-serif";
const SERIF = "'Liberation Serif', 'Times New Roman', serif";
const C_KS = "#1f1fc4";
const C_KS_AXIS = "#26269a";
const C_GRAX = "#14147a";
const C_NDM = "#111111";
const C_UP = "#e1202a";
const C_UN = "#1d8a1d";
const VLINES = ["#b4b4b4", "#b4b4b4", "#b4b4b4", "#b4b4b4", "#6e6e6e"];

function grAxis(name: string, color: string, offset: number, withGrid: boolean) {
  return {
    type: "value",
    gridIndex: 1,
    position: "left",
    offset,
    min: GR_RANGE[0],
    max: GR_RANGE[1],
    interval: 4,
    axisLine: { show: true, onZero: false, lineStyle: { color, width: 1.5 } },
    axisTick: { show: true, length: 4, lineStyle: { color } },
    minorTick: { show: true, splitNumber: 4, length: 4, lineStyle: { color } },
    axisLabel: {
      show: true,
      rotate: 90,
      margin: 5,
      fontSize: 12,
      fontFamily: SANS,
      color,
      formatter: (v: number) => (v === GR_RANGE[1] ? "{t|" + v + "}" : v === GR_RANGE[0] ? "{b|" + v + "}" : String(v)),
      rich: {
        t: { padding: [0, 22, 0, 0], fontSize: 12, color, fontFamily: SANS },
        b: { padding: [0, 0, 0, 25], fontSize: 12, color, fontFamily: SANS },
      },
    },
    name,
    nameLocation: "middle",
    nameRotate: 90,
    nameGap: 19,
    nameTextStyle: { fontSize: 18, color, fontFamily: SANS },
    splitLine: withGrid
      ? { show: true, lineStyle: { color: ["#000000", "#9a9a9a", "#e4e4e4", "#8a8a8a", "#cfcfcf"], width: 1 } }
      : { show: false },
  };
}

function depthAxis(gridIndex: number, extra: any) {
  return Object.assign(
    {
      type: "value",
      gridIndex,
      position: "bottom",
      min: DEPTH_MIN,
      max: DEPTH_MAX,
      axisLine: { show: false },
      axisTick: { show: false, customValues: DEPTH_TICKS },
      axisLabel: { show: false, customValues: DEPTH_TICKS },
      splitLine: { show: true, lineStyle: { color: VLINES, width: 1 } },
    },
    extra
  );
}

export default function App() {
  const ref = useRef<HTMLDivElement>(null);
  useEffect(() => {
    if (!ref.current) return;
    const chart = echarts.init(ref.current, undefined, { renderer: "svg" });
    const unitText = (x: number, y: number, text: string, color: string) => ({
      type: "text",
      x,
      y,
      rotation: Math.PI / 2,
      style: { text, fill: color, fontSize: 11, fontFamily: SANS, align: "center", verticalAlign: "middle" },
    });
    const option: any = {
      animation: false,
      backgroundColor: "#ffffff",
      textStyle: { fontFamily: SANS },
      grid: [
        { left: 268, top: 6, width: 1828, height: 370 },
        { left: 268, top: 376, width: 1828, height: 370 },
      ],
      xAxis: [
        depthAxis(0, {}),
        depthAxis(1, {
          axisLine: { show: true, onZero: false, lineStyle: { color: "#000", width: 1.5 } },
          axisLabel: {
            show: true,
            customValues: DEPTH_TICKS,
            rotate: 90,
            margin: 12,
            fontSize: 18,
            fontFamily: SANS,
            color: "#000",
            verticalAlign: "bottom",
            lineHeight: 18,
            formatter: (v: number) => String(Math.round(v)),
          },
        }),
        depthAxis(1, {
          splitLine: { show: false },
          axisLabel: {
            show: true,
            customValues: DEPTH_TICKS,
            rotate: 90,
            margin: 6,
            fontSize: 18,
            fontFamily: SERIF,
            color: "#e0242c",
            verticalAlign: "top",
            lineHeight: 30,
            formatter: (v: number) => {
              const i = DEPTH_TICKS.indexOf(Math.round(v));
              return i >= 0 ? ABS_ELEV[i] : "";
            },
          },
        }),
      ],
      yAxis: [
        {
          type: "value",
          gridIndex: 0,
          position: "left",
          offset: 19,
          min: KS_RANGE[0],
          max: KS_RANGE[1],
          interval: 0.5,
          axisLine: { show: true, onZero: false, lineStyle: { color: C_KS_AXIS, width: 1.5 } },
          axisTick: { show: true, length: 5, lineStyle: { color: C_KS_AXIS } },
          minorTick: { show: true, splitNumber: 4, length: 5, lineStyle: { color: C_KS_AXIS } },
          axisLabel: {
            show: true,
            rotate: 90,
            margin: 4,
            fontSize: 12,
            fontFamily: SANS,
            color: C_KS,
            formatter: (v: number) => (v === KS_RANGE[1] ? "{t|" + v + "}" : v === KS_RANGE[0] ? "{b|" + v + "}" : String(v)),
            rich: {
              t: { padding: [0, 44, 0, 0], fontSize: 12, color: C_KS, fontFamily: SANS },
              b: { padding: [0, 0, 0, 44], fontSize: 12, color: C_KS, fontFamily: SANS },
            },
          },
          name: "KS_NDM",
          nameLocation: "middle",
          nameRotate: 90,
          nameGap: 22,
          nameTextStyle: { fontSize: 18, color: C_KS, fontFamily: SANS },
          splitLine: { show: true, lineStyle: { color: ["#cfcfcf", "#555555", "#9a9a9a", "#e4e4e4", "#a6cba6"], width: 1 } },
        },
        grAxis("GRAX", C_GRAX, 210, false),
        grAxis("GR_NDM", C_NDM, 147, false),
        grAxis("GR_UP", C_UP, 84, false),
        grAxis("GR_UN", C_UN, 19, true),
      ],
      series: [
        { name: "KS_NDM", type: "line", xAxisIndex: 0, yAxisIndex: 0, data: KS_NDM, showSymbol: false, symbol: "none", lineStyle: { color: C_KS, width: 1.5 } },
        { name: "GRAX", type: "line", xAxisIndex: 1, yAxisIndex: 1, data: GRAX, showSymbol: false, symbol: "none", lineStyle: { color: C_GRAX, width: 1.5 } },
        { name: "GR_NDM", type: "line", xAxisIndex: 1, yAxisIndex: 2, data: GR_NDM, showSymbol: false, symbol: "none", lineStyle: { color: C_NDM, width: 1.3 } },
        { name: "GR_UP", type: "line", xAxisIndex: 1, yAxisIndex: 3, data: GR_UP, showSymbol: false, symbol: "none", lineStyle: { color: C_UP, width: 1.5 } },
        { name: "GR_UN", type: "line", xAxisIndex: 1, yAxisIndex: 4, data: GR_UN, showSymbol: false, symbol: "none", lineStyle: { color: C_UN, width: 1.5 } },
      ],
      graphic: [
        { type: "line", shape: { x1: 13.5, y1: 6, x2: 13.5, y2: 813 }, style: { stroke: "#9a9a9a", lineWidth: 1 } },
        { type: "line", shape: { x1: 13, y1: 6.5, x2: 2096, y2: 6.5 }, style: { stroke: "#a6cba6", lineWidth: 1 } },
        { type: "line", shape: { x1: 268, y1: 6, x2: 268, y2: 813 }, style: { stroke: "#6e6e6e", lineWidth: 1 } },
        { type: "line", shape: { x1: 13, y1: 376, x2: 268, y2: 376 }, style: { stroke: "#cfcfcf", lineWidth: 1 } },
        { type: "line", shape: { x1: 13, y1: 746, x2: 268, y2: 746 }, style: { stroke: "#000", lineWidth: 1.5 } },
        unitText(257, 196, "Ом•м", C_KS),
        unitText(67, 562, "мкР./ч.", C_GRAX),
        unitText(130, 562, "мкР./ч.", C_NDM),
        unitText(193, 562, "мкР./ч.", C_UP),
        unitText(257, 562, "мкР./ч.", C_UN),
        {
          type: "text",
          x: 140,
          y: 798,
          rotation: Math.PI,
          style: { text: "Глубина, м", fill: "#111", fontSize: 20, fontFamily: SANS, align: "center", verticalAlign: "middle" },
        },
      ],
    };
    chart.setOption(option);
    return () => chart.dispose();
  }, []);
  return (
    <div
      ref={ref}
      style={{ position: "absolute", left: 0, top: 0, width: 2096, height: 813, background: "#fff" }}
    />
  );
}
